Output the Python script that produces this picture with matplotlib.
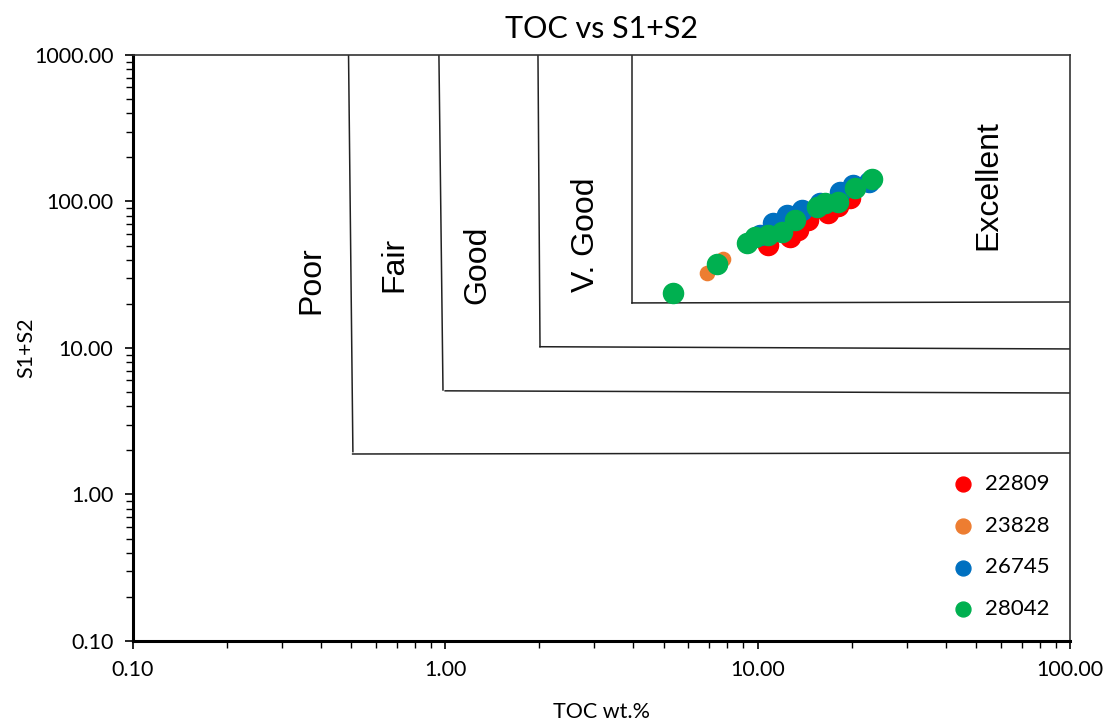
import matplotlib.pyplot as plt
from matplotlib.ticker import LogLocator, FixedLocator

plt.rcParams['font.family'] = ['Lato', 'DejaVu Sans']

# sample data: TOC (wt.%) and S1+S2
toc_22809 = [10.8, 12.7, 13.5, 14.5, 16.8, 18.1, 19.8]
s_22809 = [50.5, 56.8, 63.9, 74.8, 84.0, 93.2, 105.6]

toc_23828 = [6.88, 7.75]
s_23828 = [32.5, 40.5]

toc_26745 = [10.2, 11.2, 12.4, 13.9, 15.8, 18.4, 20.2, 22.8]
s_26745 = [59.0, 71.3, 80.9, 87.5, 97.7, 116.0, 129.6, 136.0]

toc_28042 = [5.36, 7.41, 9.24, 9.8, 10.8, 12.0, 13.2, 15.5, 16.4, 18.1, 20.5, 23.2]
s_28042 = [23.7, 37.4, 52.1, 56.8, 59.0, 61.9, 74.8, 91.7, 97.7, 99.3, 123.7, 142.0]

# hand drawn class boundaries (x values, y values)
bound_x = [[0.49, 0.506], [0.954, 0.983], [1.98, 2.01], [3.96, 3.96]]
bound_y = [[1000, 1.96], [1000, 5.17], [1000, 10.2], [1000, 20.3]]
hline_x = [[0.505, 100], [0.999, 100], [2.01, 100], [3.96, 100]]
hline_y = [[1.89, 1.92], [5.1, 4.93], [10.2, 9.85], [20.3, 20.6]]

class_names = ['Poor', 'Fair', 'Good', 'V. Good', 'Excellent']
class_x = [0.372, 0.685, 1.27, 2.82, 54.6]
class_y = [29.1, 36.9, 36.9, 59.0, 129.7]

fig = plt.figure(figsize=(11.08, 7.28), dpi=100)
ax = fig.add_axes([0.12, 0.1195, 0.8457, 0.805])

for bx, by in zip(bound_x, bound_y):
    ax.plot(bx, by, color='#222222', lw=1.1)
for hx, hy in zip(hline_x, hline_y):
    ax.plot(hx, hy, color='#222222', lw=1.1)

for name, cx, cy in zip(class_names, class_x, class_y):
    ax.text(cx, cy, name, rotation=90, ha='center', va='center',
            fontsize=23, family=['Liberation Sans', 'DejaVu Sans'])

ax.scatter(toc_22809, s_22809, s=210, color='#FF0000', label='22809', zorder=3)
ax.scatter(toc_23828, s_23828, s=105, color='#ED7D31', label='23828', zorder=3)
ax.scatter(toc_26745, s_26745, s=210, color='#0070C0', label='26745', zorder=3)
ax.scatter(toc_28042, s_28042, s=210, color='#00B050', label='28042', zorder=3)

ax.set_xscale('log')
ax.set_yscale('log')
ax.set_xlim(0.1, 100)
ax.set_ylim(0.1, 1000)

ax.xaxis.set_major_locator(FixedLocator([0.1, 1, 10, 100]))
ax.yaxis.set_major_locator(FixedLocator([0.1, 1, 10, 100, 1000]))
ax.xaxis.set_minor_locator(LogLocator(base=10, subs=range(2, 10)))
ax.yaxis.set_minor_locator(LogLocator(base=10, subs=range(2, 10)))
ax.set_xticklabels(['0.10', '1.00', '10.00', '100.00'])
ax.set_yticklabels(['0.10', '1.00', '10.00', '100.00', '1000.00'])
ax.minorticks_on()
ax.tick_params(which='major', direction='out', length=6, width=1.2, labelsize=15.5, pad=8)
ax.tick_params(which='minor', direction='out', length=5, width=1.0)

for side in ['left', 'bottom']:
    ax.spines[side].set_linewidth(2.2)
for side in ['top', 'right']:
    ax.spines[side].set_linewidth(1.2)
    ax.spines[side].set_color('#333333')

ax.set_xlabel('TOC wt.%', fontsize=15.5)
ax.set_ylabel('S1+S2', fontsize=15.5)
ax.xaxis.set_label_coords(0.5, -0.104)
ax.yaxis.set_label_coords(-0.1035, 0.5)
ax.set_title('TOC vs S1+S2', fontsize=22, pad=12)

leg = ax.legend(loc='lower right', bbox_to_anchor=(1.0, 0.003), frameon=False,
                fontsize=16, handletextpad=0.0, labelspacing=0.98, borderaxespad=0.5)
for h in leg.legend_handles:
    h.set_sizes([115])

fig.savefig('out.png', dpi=100)
